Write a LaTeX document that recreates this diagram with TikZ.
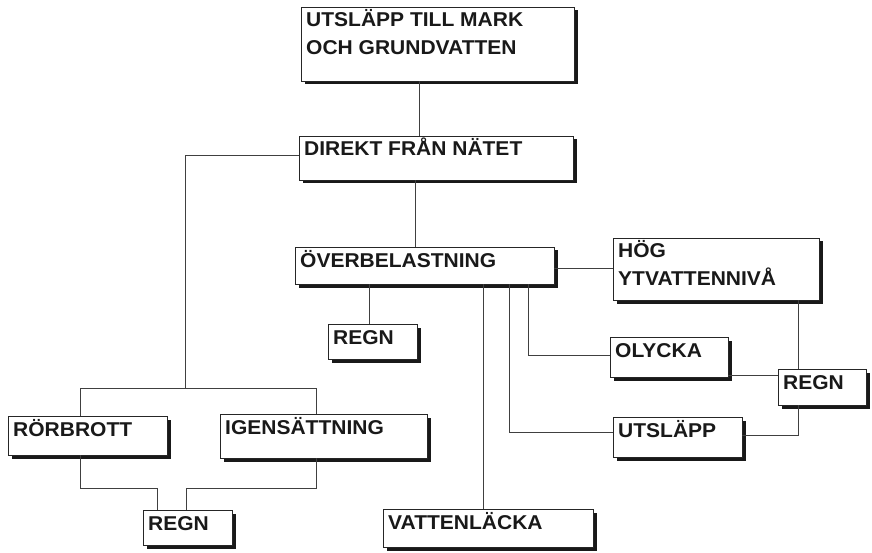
\documentclass[tikz,border=0pt]{standalone}
\usepackage{fontspec}
\setmainfont[FakeStretch=1.05]{Liberation Sans}
\usetikzlibrary{shadows}
\tikzset{
  boxst/.style={draw=black!85, line width=0.8pt, fill=white, inner sep=0pt,
    drop shadow={shadow xshift=3.5pt, shadow yshift=-3.5pt, fill=black!90, opacity=1}},
  lblst/.style={inner sep=0pt, font=\bfseries\fontsize{20pt}{28pt}\selectfont, text=black!90},
  conn/.style={draw=black!75, line width=0.7pt}
}
\newcommand{\mybox}[6]{%
  \node[boxst, minimum width={#4-#2}, minimum height={#5-#3}] (#1) at ({(#2+#4)/2},{(#3+#5)/2}) {};
  \node[lblst, anchor=base west] (#1t) at ({#2+5},{#3+20}) {#6};
}
\begin{document}
\begin{tikzpicture}[x=1pt,y=-1pt]
\useasboundingbox[fill=white] (0,0) rectangle (872,553);
\mybox{b1}{301}{7}{574}{81}{\vtop{\hbox{UTSLÄPP TILL MARK}\hbox{OCH GRUNDVATTEN}}}
\mybox{b2}{299}{136}{573}{180}{DIREKT FRÅN NÄTET}
\mybox{b3}{295}{247}{554}{284}{ÖVERBELASTNING}
\mybox{b4}{328}{324}{417}{359}{REGN}
\mybox{b5}{613}{238}{819}{300}{\vtop{\hbox{HÖG}\hbox{YTVATTENNIVÅ}}}
\mybox{b6}{610}{337}{728}{377}{OLYCKA}
\mybox{b7}{778}{369}{866}{405}{REGN}
\mybox{b8}{613}{417}{742}{457}{UTSLÄPP}
\mybox{b9}{8}{416}{167}{455}{RÖRBROTT}
\mybox{b10}{220}{414}{427}{458}{IGENSÄTTNING}
\mybox{b11}{143}{510}{232}{545}{REGN}
\mybox{b12}{383}{509}{593}{547}{VATTENLÄCKA}

\coordinate (cA) at (419,0);
\coordinate (cB) at (415,0);
\coordinate (cC) at (369,0);
\coordinate (cD) at (483,0);
\coordinate (cE) at (798,0);
\coordinate (jA) at (185,155);
\coordinate (jB) at (185,388);
\coordinate (jL) at (80,388);
\coordinate (jR) at (316,388);
\coordinate (kL) at (157,488);
\coordinate (kR) at (186,488);
\coordinate (jU) at (509,432);
\coordinate (jO) at (528,355);
\coordinate (jH) at (0,268);
\coordinate (jO2) at (0,375);
\coordinate (jS) at (798,435);

\draw[conn] (b1.south -| cA) -- (b2.north -| cA);
\draw[conn] (b2.south -| cB) -- (b3.north -| cB);
\draw[conn] (b2.west |- jA) -- (jA) -- (jB);
\draw[conn] (jL) -- (jR);
\draw[conn] (jL) -- (b9.north -| jL);
\draw[conn] (jR) -- (b10.north -| jR);
\draw[conn] (b9.south -| jL) |- (kL) -- (b11.north -| kL);
\draw[conn] (b10.south -| jR) |- (kR) -- (b11.north -| kR);
\draw[conn] (b3.south -| cC) -- (b4.north -| cC);
\draw[conn] (b3.south -| cD) -- (b12.north -| cD);
\draw[conn] (b3.south -| jU) -- (jU) -- (b8.west |- jU);
\draw[conn] (b3.south -| jO) -- (jO) -- (b6.west |- jO);
\draw[conn] (b3.east |- jH) -- (b5.west |- jH);
\draw[conn] (b5.south -| cE) -- (b7.north -| cE);
\draw[conn] (b6.east |- jO2) -- (b7.west |- jO2);
\draw[conn] (b8.east |- jS) -- (jS) -- (b7.south -| jS);
\end{tikzpicture}
\end{document}
